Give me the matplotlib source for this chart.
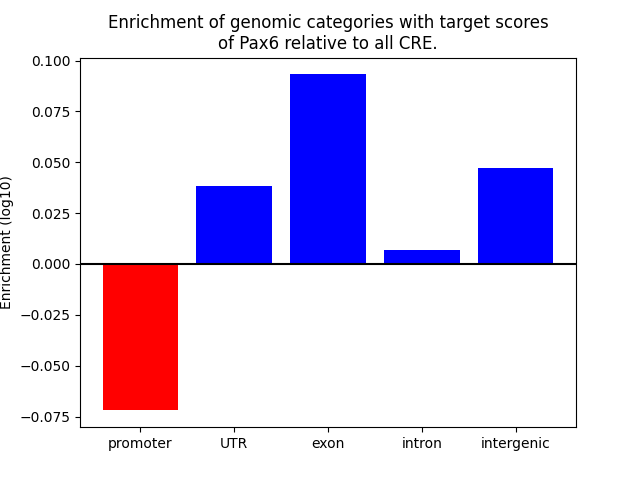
import matplotlib
matplotlib.use("Agg")
import matplotlib.pyplot as plt

categories = ["promoter", "UTR", "exon", "intron", "intergenic"]
enrichment = [-0.0720, 0.0383, 0.0932, 0.0069, 0.0472]

colors = ["red" if v < 0 else "blue" for v in enrichment]

fig = plt.figure(figsize=(6.4, 4.8), dpi=100)
ax = plt.gca()
ax.bar(range(len(categories)), enrichment, color=colors)
ax.axhline(0, color="black")
ax.set_xticks(range(len(categories)))
ax.set_xticklabels(categories)
ax.set_ylabel("Enrichment (log10)")
ax.set_title("Enrichment of genomic categories with target scores\nof Pax6 relative to all CRE.")

plt.savefig("out.png", dpi=100)
